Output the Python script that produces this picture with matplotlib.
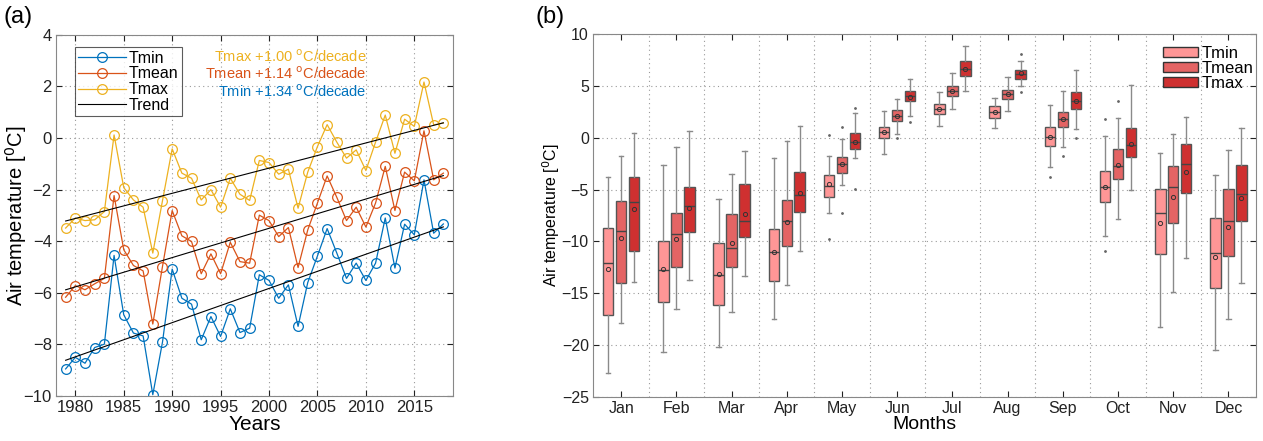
import numpy as np
import matplotlib
matplotlib.use('Agg')
import matplotlib.pyplot as plt
from matplotlib.patches import Patch

plt.rcParams['font.family'] = ['Liberation Sans', 'DejaVu Sans']

# ---------------- data: panel (a) annual means ----------------
years = list(range(1979, 2019))
tmax = [-3.49, -3.10, -3.20, -3.17, -2.85, 0.12, -1.92, -2.40, -2.68, -4.46,
        -2.43, -0.42, -1.36, -1.56, -2.40, -2.00, -2.68, -1.56, -2.18, -2.42,
        -0.87, -0.95, -1.40, -1.21, -2.72, -1.32, -0.33, 0.52, -0.16, -0.78,
        -0.46, -1.26, -0.16, 0.89, -0.59, 0.73, 0.45, 2.17, 0.51, 0.58]
tmean = [-6.17, -5.72, -5.88, -5.65, -5.44, -2.23, -4.33, -4.94, -5.15, -7.21,
         -4.98, -2.81, -3.79, -4.01, -5.26, -4.49, -5.26, -4.04, -4.79, -4.85,
         -2.99, -3.20, -3.82, -3.47, -5.02, -3.56, -2.52, -1.47, -2.30, -3.20,
         -2.68, -3.45, -2.52, -1.10, -2.81, -1.32, -1.66, 0.28, -1.62, -1.36]
tmin = [-8.95, -8.50, -8.73, -8.12, -7.99, -4.55, -6.85, -7.56, -7.67, -9.95,
        -7.91, -5.08, -6.21, -6.44, -7.82, -6.92, -7.69, -6.62, -7.54, -7.37,
        -5.30, -5.52, -6.21, -5.69, -7.30, -5.60, -4.57, -3.51, -4.46, -5.44,
        -4.85, -5.52, -4.85, -3.10, -5.04, -3.34, -3.75, -1.62, -3.69, -3.33]
trend_labels = ['Tmax +1.00 $^{\\rm o}$C/decade',
                'Tmean +1.14 $^{\\rm o}$C/decade',
                'Tmin +1.34 $^{\\rm o}$C/decade']

# ---------------- data: panel (b) monthly box statistics ----------------
months = ['Jan', 'Feb', 'Mar', 'Apr', 'May', 'Jun',
          'Jul', 'Aug', 'Sep', 'Oct', 'Nov', 'Dec']

tmin_lo = [-22.65, -20.70, -20.17, -17.44, -7.30, -1.61, 1.12, 0.90, -2.80, -9.46, -18.24, -20.49]
tmin_q1 = [-17.10, -15.83, -16.18, -13.83, -5.70, 0.00, 2.25, 1.86, -0.78, -6.18, -11.23, -14.54]
tmin_med = [-12.13, -12.77, -13.25, -11.00, -4.67, 0.58, 2.76, 2.51, 0.09, -4.73, -7.30, -11.16]
tmin_q3 = [-8.69, -9.94, -10.20, -8.85, -3.60, 1.06, 3.21, 3.05, 0.99, -3.25, -4.99, -7.79]
tmin_hi = [-3.83, -2.67, -5.92, -2.00, -1.77, 2.57, 4.44, 3.79, 3.15, 0.16, -1.45, -3.60]
tmin_mean = [-12.70, -12.70, -13.19, -11.00, -4.50, 0.51, 2.76, 2.44, 0.09, -4.80, -8.27, -11.55]

tmean_lo = [-17.85, -16.57, -16.83, -14.22, -4.57, 0.35, 2.73, 2.57, -0.94, -7.88, -14.93, -17.44]
tmean_q1 = [-14.06, -12.45, -12.52, -10.49, -3.44, 1.64, 4.02, 3.73, 1.03, -3.99, -8.21, -11.39]
tmean_med = [-9.04, -9.33, -10.68, -8.01, -2.58, 2.09, 4.50, 4.18, 1.80, -2.74, -4.73, -8.01]
tmean_q3 = [-6.11, -7.30, -7.34, -5.99, -1.90, 2.63, 4.98, 4.60, 2.51, -1.10, -2.74, -4.96]
tmean_hi = [-1.77, -0.94, -3.54, -0.36, -0.13, 3.76, 6.20, 5.82, 4.50, 1.86, 0.35, -1.19]
tmean_mean = [-9.72, -9.75, -10.14, -8.14, -2.54, 2.09, 4.53, 4.21, 1.80, -2.67, -5.70, -8.66]

tmax_lo = [-13.93, -13.74, -13.35, -10.94, -1.93, 2.12, 4.47, 4.98, 0.80, -5.05, -11.65, -14.06]
tmax_q1 = [-10.90, -9.14, -9.56, -7.14, -1.10, 3.53, 5.95, 5.69, 2.73, -1.84, -5.31, -8.04]
tmax_med = [-6.24, -6.60, -8.04, -5.54, -0.39, 4.02, 6.62, 6.14, 3.53, -0.71, -2.58, -5.47]
tmax_q3 = [-3.80, -4.80, -4.47, -3.35, 0.48, 4.53, 7.39, 6.53, 4.37, 0.96, -0.65, -2.67]
tmax_hi = [0.48, 0.67, -1.32, 1.15, 2.41, 5.63, 8.84, 7.39, 6.49, 5.08, 1.96, 0.90]
tmax_mean = [-6.89, -6.82, -7.34, -5.31, -0.39, 3.95, 6.62, 6.20, 3.57, -0.61, -3.35, -5.86]

# outliers: month index (1-12), value
tmin_out = [(5, 0.3), (5, -9.8), (9, -3.77), (10, 1.77), (10, -10.9)]
tmean_out = [(5, 1.0), (5, -7.3), (6, -0.07), (9, -1.77), (10, 3.53)]
tmax_out = [(5, 2.83), (5, -4.99), (6, 1.48), (8, 8.04), (8, 4.40), (9, -0.07)]

# ---------------- figure ----------------
fig = plt.figure(figsize=(12.63, 4.41), dpi=100)
ax1 = fig.add_axes([0.0443, 0.102, 0.3144, 0.819])
ax2 = fig.add_axes([0.4695, 0.100, 0.5250, 0.823])

c_min, c_mean, c_max = '#0072BD', '#D95319', '#EDB120'
spine_col = '#888888'

# Panel (a)
for vals, col, lab in [(tmin, c_min, 'Tmin'), (tmean, c_mean, 'Tmean'), (tmax, c_max, 'Tmax')]:
    ax1.plot(years, vals, '-o', color=col, lw=0.9, ms=7, mfc='none', mew=0.9, label=lab)

yr = np.array(years)
for i, vals in enumerate([tmin, tmean, tmax]):
    p = np.polyfit(yr, vals, 1)
    ax1.plot(yr, np.polyval(p, yr), color='k', lw=0.8, label='Trend' if i == 0 else None)

ax1.set_xlim(1978, 2019)
ax1.set_ylim(-10, 4)
ax1.set_xticks(range(1980, 2019, 5))
ax1.set_yticks(range(-10, 5, 2))
ax1.grid(True, ls=(0, (1, 3)), color='#999999', lw=0.8)
ax1.tick_params(direction='in', labelsize=12, length=4, pad=3, colors='#222222', top=True, right=True)
ax1.set_xlabel('Years', fontsize=15, labelpad=0)
ax1.set_ylabel('Air temperature [$^{\\rm 0}$C]', fontsize=14.5)
ax1.yaxis.set_label_coords(-0.068, 0.5)
for s in ax1.spines.values():
    s.set_color(spine_col)

leg = ax1.legend(loc='upper left', bbox_to_anchor=(0.047, 0.965), fontsize=11.5, frameon=True,
                 fancybox=False, edgecolor='#333333', handlelength=3.0, handletextpad=0.2,
                 borderpad=0.2, labelspacing=0.05, borderaxespad=0)
leg.get_frame().set_linewidth(0.8)

for txt, col, yy in zip(trend_labels, [c_max, c_mean, c_min], [0.94, 0.893, 0.843]):
    ax1.text(0.783, yy, txt, transform=ax1.transAxes, color=col, fontsize=10.5,
             ha='right', va='center')

fig.text(0.003, 0.962, '(a)', fontsize=17, va='center', ha='left')

# Panel (b)
f_min, f_mean, f_max = '#FF9696', '#E46464', '#CF3030'
pos = np.arange(1, 13)
off = 0.235
wid = 0.19

series = [
    (tmin_lo, tmin_q1, tmin_med, tmin_q3, tmin_hi, tmin_mean, tmin_out, f_min, -off),
    (tmean_lo, tmean_q1, tmean_med, tmean_q3, tmean_hi, tmean_mean, tmean_out, f_mean, 0.0),
    (tmax_lo, tmax_q1, tmax_med, tmax_q3, tmax_hi, tmax_mean, tmax_out, f_max, off),
]
for lo, q1, med, q3, hi, mn, outs, fc, dx in series:
    stats = []
    for k in range(12):
        fl = [v for (m, v) in outs if m == k + 1]
        stats.append(dict(whislo=lo[k], q1=q1[k], med=med[k], q3=q3[k], whishi=hi[k],
                          mean=mn[k], fliers=fl))
    ax2.bxp(stats, positions=pos + dx, widths=wid, patch_artist=True, showmeans=True,
            boxprops=dict(facecolor=fc, edgecolor='#555555', lw=1.0),
            medianprops=dict(color='#444444', lw=1.0),
            whiskerprops=dict(color='#8a8a8a', lw=1.0),
            capprops=dict(color='#8a8a8a', lw=1.0),
            capwidths=0.08,
            meanprops=dict(marker='o', ms=3, mfc='none', mec='#333333', mew=0.7),
            flierprops=dict(marker='.', ms=2, mfc='#666666', mec='#666666'),
            manage_ticks=False)

ax2.set_xlim(0.49, 12.5)
ax2.set_ylim(-25, 10)
ax2.set_xticks(pos)
ax2.set_xticklabels(months)
ax2.set_yticks(range(-25, 11, 5))
ax2.set_xticks(np.arange(1.5, 12.5, 1), minor=True)
ax2.grid(False)
ax2.grid(True, axis='y', which='major', ls=(0, (1, 3)), color='#999999', lw=0.8)
ax2.grid(True, axis='x', which='minor', ls=(0, (1, 3)), color='#999999', lw=0.8)
ax2.tick_params(axis='x', which='minor', length=0)
ax2.tick_params(direction='in', labelsize=11.5, length=4, pad=3, colors='#222222', top=True, right=True)
ax2.set_xlabel('Months', fontsize=14, labelpad=0)
ax2.set_ylabel('Air temperature [$^{\\rm 0}$C]', fontsize=11.5)
ax2.yaxis.set_label_coords(-0.046, 0.5)
for s in ax2.spines.values():
    s.set_color(spine_col)

handles = [Patch(facecolor=f_min, edgecolor='#333333', label='Tmin'),
           Patch(facecolor=f_mean, edgecolor='#333333', label='Tmean'),
           Patch(facecolor=f_max, edgecolor='#333333', label='Tmax')]
leg2 = ax2.legend(handles=handles, loc='upper right', bbox_to_anchor=(1.008, 0.99), fontsize=12,
                  frameon=False, handlelength=2.1, handleheight=0.55, handletextpad=0.2,
                  labelspacing=0.0, borderaxespad=0.1)

fig.text(0.424, 0.962, '(b)', fontsize=17, va='center', ha='left')

fig.savefig('out.png', dpi=100)
